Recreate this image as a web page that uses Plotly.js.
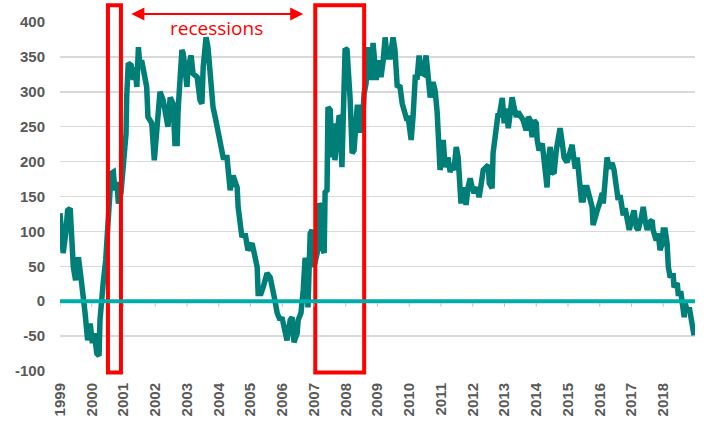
<!DOCTYPE html>
<html>
<head>
<meta charset="utf-8">
<script src="https://cdn.plot.ly/plotly-3.0.1.min.js"></script>
<style>html,body{margin:0;padding:0;background:#fff;}#chart{width:707px;height:425px;}</style>
</head>
<body>
<div id="chart"></div>
<script>
// Decimal-year dates
const dates = [
1999.00,1999.05,1999.10,1999.18,1999.24,1999.32,1999.37,1999.42,1999.49,1999.58,
1999.66,1999.73,1999.79,1999.87,1999.95,2000.02,2000.08,2000.16,2000.23,2000.26,
2000.31,2000.36,2000.44,2000.52,2000.61,2000.68,2000.73,2000.79,2000.84,2000.92,
2000.99,2001.05,2001.08,2001.10,2001.15,2001.24,2001.31,2001.36,2001.42,2001.47,
2001.52,2001.57,2001.62,2001.73,2001.77,2001.89,2001.97,2002.06,2002.15,2002.25,
2002.34,2002.40,2002.47,2002.56,2002.62,2002.69,2002.72,2002.84,2002.88,2003.00,
2003.03,2003.13,2003.19,2003.32,2003.41,2003.47,2003.51,2003.60,2003.66,2003.76,
2003.82,2003.91,2003.98,2004.07,2004.14,2004.26,2004.29,2004.36,2004.45,2004.58,
2004.61,2004.73,2004.83,2004.92,2005.05,2005.14,2005.21,2005.24,2005.33,2005.40,
2005.52,2005.62,2005.68,2005.77,2005.84,2005.93,2005.99,2006.09,2006.15,2006.25,
2006.31,2006.37,2006.47,2006.50,2006.59,2006.66,2006.72,2006.78,2006.81,2006.88,
2006.94,2007.00,2007.10,2007.16,2007.22,2007.25,2007.32,2007.35,2007.41,2007.44,
2007.51,2007.57,2007.60,2007.66,2007.76,2007.79,2007.82,2007.88,2007.98,2008.04,
2008.14,2008.20,2008.26,2008.36,2008.39,2008.45,2008.51,2008.58,2008.64,2008.70,
2008.80,2008.86,2008.96,2009.02,2009.11,2009.18,2009.24,2009.30,2009.40,2009.49,
2009.55,2009.62,2009.71,2009.78,2009.87,2009.93,2009.96,2010.06,2010.12,2010.19,
2010.25,2010.31,2010.37,2010.44,2010.53,2010.59,2010.66,2010.75,2010.82,2010.88,
2010.91,2010.97,2011.04,2011.07,2011.13,2011.22,2011.29,2011.35,2011.41,2011.48,
2011.54,2011.57,2011.63,2011.70,2011.79,2011.85,2011.92,2011.98,2012.04,2012.14,
2012.20,2012.26,2012.33,2012.42,2012.49,2012.52,2012.61,2012.64,2012.74,2012.80,
2012.83,2012.89,2012.93,2012.99,2013.05,2013.12,2013.18,2013.24,2013.30,2013.37,
2013.43,2013.52,2013.59,2013.68,2013.75,2013.81,2013.87,2013.93,2014.00,2014.03,
2014.09,2014.19,2014.25,2014.34,2014.38,2014.44,2014.50,2014.56,2014.63,2014.69,
2014.75,2014.82,2014.88,2014.97,2015.04,2015.13,2015.16,2015.23,2015.29,2015.35,
2015.42,2015.48,2015.54,2015.60,2015.67,2015.76,2015.79,2015.86,2015.92,2015.98,
2016.08,2016.11,2016.17,2016.23,2016.30,2016.39,2016.45,2016.52,2016.58,2016.64,
2016.71,2016.74,2016.80,2016.86,2016.93,2017.02,2017.08,2017.15,2017.21,2017.31,
2017.37,2017.43,2017.49,2017.56,2017.65,2017.68,2017.78,2017.84,2017.90,2017.97,
2018.00,2018.06,2018.12,2018.16,2018.22,2018.31,2018.34,2018.44,2018.47,2018.56,
2018.63,2018.66,2018.69,2018.75,2018.82,2018.88,2018.94,2018.97
];
const spread = [
126,97,69,97,130,133,97,49,30,63,
34,11,-17,-56,-32,-60,-46,-75,-78,-27,
11,26,59,106,183,185,159,171,140,155,
190,216,240,292,341,338,317,335,307,364,
335,345,331,307,264,255,202,250,300,288,
260,250,292,283,226,226,274,360,355,307,
335,352,326,321,288,283,335,378,364,321,
278,259,240,216,206,206,183,159,180,163,
135,92,97,73,83,63,49,11,11,20,
40,34,16,1,-17,-27,-23,-42,-56,-27,
-23,-59,-46,-27,-17,16,62,49,-9,97,
102,49,69,140,135,77,69,156,159,278,
274,206,255,202,255,266,264,192,362,360,
288,212,216,278,278,245,245,298,312,364,
317,370,317,345,321,345,378,350,350,378,
360,309,307,283,269,259,266,231,264,321,
321,352,328,326,352,321,292,314,300,270,
240,188,202,231,192,206,185,192,188,221,
206,178,140,163,138,163,176,163,155,163,
149,166,188,192,195,169,162,212,250,269,
264,288,291,255,276,248,274,292,278,264,
271,264,259,245,264,259,235,259,255,231,
216,226,206,163,202,221,185,183,216,240,
248,226,205,199,212,224,212,190,206,178,
145,145,163,163,149,135,109,126,130,138,
155,140,188,206,190,198,188,163,145,152,
135,123,133,112,102,120,130,106,102,120,
135,116,102,113,116,102,87,97,73,83,
102,102,83,49,34,40,20,26,11,11,
-9,-23,-3,-13,-9,-27,-46,-49
];
const tickYears = [1999,2000,2001,2002,2003,2004,2005,2006,2007,2008,2009,2010,2011,2012,2013,2014,2015,2016,2017,2018];
const tickLabels = tickYears.map(String);
const yTicks = [-100,-50,0,50,100,150,200,250,300,350,400];
const recessions = [[2000.51, 2000.92], [2007.04, 2008.58]];
const arrowSpan = [2001.20, 2006.66];
const labelText = "recessions";

const red = '#FF0000';
const shapes = [];
recessions.forEach(r => {
  shapes.push({type:'rect', xref:'x', yref:'paper', x0:r[0], x1:r[1], y0:-0.004, y1:1.048,
    line:{color:red, width:4}, fillcolor:'rgba(0,0,0,0)', layer:'above'});
});
shapes.push({type:'line', xref:'paper', yref:'y', x0:0, x1:1, y0:0, y1:0,
  line:{color:'#00ADA9', width:4}, layer:'above'});
tickYears.forEach(t => {
  shapes.push({type:'line', xref:'x', yref:'y', x0:t, x1:t, y0:-3, y1:-8,
    line:{color:'#BFBFBF', width:1}, layer:'above'});
});

const trace = {
  x: dates, y: spread, type:'scatter', mode:'lines',
  line:{color:'#007F78', width:5.5}, hoverinfo:'skip'
};

const layout = {
  width:707, height:425,
  margin:{l:60, r:12, t:22, b:54},
  paper_bgcolor:'#fff', plot_bgcolor:'#fff',
  showlegend:false,
  font:{family:'Liberation Sans, Arial, sans-serif', color:'#595959'},
  xaxis:{
    range:[1999, 2019.0], tickvals:tickYears, ticktext:tickLabels,
    tickangle:-90, showgrid:false, zeroline:false, showline:false, ticks:'',
    tickfont:{size:15, color:'#595959', family:'Liberation Sans, Arial, sans-serif', weight:'bold'},
    ticklabelstandoff:8
  },
  yaxis:{
    range:[-100, 400], tickvals:yTicks, ticktext:yTicks.map(String),
    showgrid:true, gridcolor:'#D9D9D9', gridwidth:1.5, zeroline:false, showline:false, ticks:'',
    tickfont:{size:15, color:'#595959', family:'Liberation Sans, Arial, sans-serif', weight:'bold'},
    ticklabelstandoff:14
  },
  shapes: shapes,
  annotations:[
    {xref:'x', yref:'paper', x:arrowSpan[1], y:1.023, axref:'x', ayref:'pixel', ax:arrowSpan[0], ay:0,
     text:'', showarrow:true, arrowhead:2, startarrowhead:2, arrowside:'end+start',
     arrowsize:1.3, startarrowsize:1.3, arrowwidth:2, arrowcolor:red},
    {xref:'x', yref:'paper', x:(arrowSpan[0]+arrowSpan[1])/2, y:0.983, text:labelText,
     showarrow:false, font:{family:'Open Sans, sans-serif', size:19, color:red}, yanchor:'middle'}
  ]
};

Plotly.newPlot('chart', [trace], layout, {displayModeBar:false, staticPlot:true});
</script>
</body>
</html>
